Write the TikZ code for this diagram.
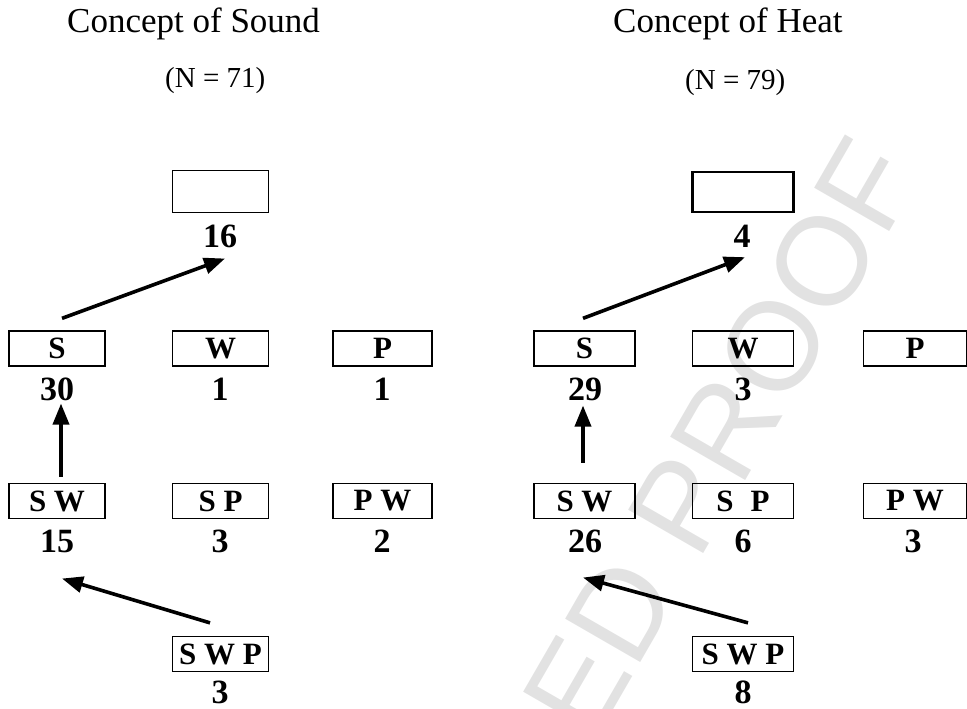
\documentclass[tikz,border=0pt]{standalone}
\usepackage{fontspec}
\setmainfont{Liberation Serif}
\newfontfamily\wmfont{Liberation Sans}
\usetikzlibrary{arrows.meta}
\definecolor{wm}{RGB}{226,226,226}
\begin{document}
\begin{tikzpicture}[x=1pt,y=-1pt,
  box/.style={draw, line width=1.3pt, inner sep=0pt, minimum width=96pt, minimum height=35pt,
    font=\fontsize{31}{31}\selectfont\bfseries},
  rbox/.style={box, minimum width=101pt},
  num/.style={inner sep=0pt, anchor=base, font=\fontsize{34}{34}\selectfont\bfseries},
  ttl/.style={inner sep=0pt, anchor=base west, font=\fontsize{35}{35}\selectfont},
  sub/.style={inner sep=0pt, anchor=base west, font=\fontsize{29}{29}\selectfont},
  arr/.style={line width=3.6pt, -{Triangle[length=21pt,width=16pt]}},
]
\useasboundingbox (0,0) rectangle (967,709);
% watermark
\begin{scope}
\clip (0,0) rectangle (967,709);
\node[wm, inner sep=0pt, anchor=base east, rotate=60, font=\wmfont\fontsize{126}{126}\selectfont] (wmk) at (923,174) {ED PROOF};
\end{scope}

% titles
\node[ttl] (t1) at (67,33) {Concept of Sound};
\node[sub] (s1) at (165,88) {(N = 71)};
\node[ttl] (t2) at (613,33) {Concept of Heat};
\node[sub] (s2) at (685,89) {(N = 79)};

% ---- left diagram ----
\node[box, minimum height=41.5pt] (LT) at (220.5,191.5) {};
\node[num] (L16) at (220,247) {16};
\node[box] (LS) at (57,348.5) {S};
\node[box] (LW) at (220.5,348.5) {W};
\node[box, minimum width=99pt] (LP) at (382.5,348.5) {P};
\node[num] (L30) at (57,400) {30};
\node[num] (L1a) at (220,400) {1};
\node[num] (L1b) at (382,400) {1};
\node[box] (LSW) at (57,501) {S W};
\node[box] (LSP) at (220.5,501) {S P};
\node[box, minimum width=99pt] (LPW) at (382.5,501) {P W};
\node[num] (L15) at (57,552) {15};
\node[num] (L3a) at (220,552) {3};
\node[num] (L2) at (382,552) {2};
\node[box] (LSWP) at (220.5,654) {S W P};
\node[num] (L3b) at (220,703) {3};

\draw[arr] ([shift={(5,-12)}]LS.north) -- ([shift={(5,11)}]L16.south);
\draw[arr] ([shift={(4,-6)}]LSW.north) -- ([shift={(4,3)}]L30.south);
\draw[arr] ([shift={(-10.5,-13)}]LSWP.north) -- ([shift={(5,26)}]L15.south);

% ---- right diagram ----
\node[rbox, minimum height=40pt, line width=2.7pt] (RT) at (743,192) {};
\node[num] (R4) at (742,247) {4};
\node[rbox] (RS) at (584.5,348.5) {S};
\node[rbox] (RW) at (743,348.5) {W};
\node[rbox, minimum width=103pt] (RP) at (915,348.5) {P};
\node[num] (R29) at (585,400) {29};
\node[num] (R3a) at (743,400) {3};
\node[rbox] (RSW) at (584.5,501) {S W};
\node[rbox] (RSP) at (743,501) {S\hspace{0.55em}P};
\node[rbox, minimum width=103pt] (RPW) at (915,501) {P W};
\node[num] (R26) at (585,552) {26};
\node[num] (R6) at (743,552) {6};
\node[num] (R3b) at (913,552) {3};
\node[rbox] (RSWP) at (743,654) {S W P};
\node[num] (R8) at (743,703) {8};

\draw[arr] ([shift={(-1.5,-12)}]RS.north) -- ([shift={(3,10)}]R4.south);
\draw[arr] ([shift={(-1.5,-20)}]RSW.north) -- ([shift={(-2,5)}]R29.south);
\draw[arr] ([shift={(5,-13)}]RSWP.north) -- ([shift={(-2,25)}]R26.south);
\end{tikzpicture}
\end{document}
